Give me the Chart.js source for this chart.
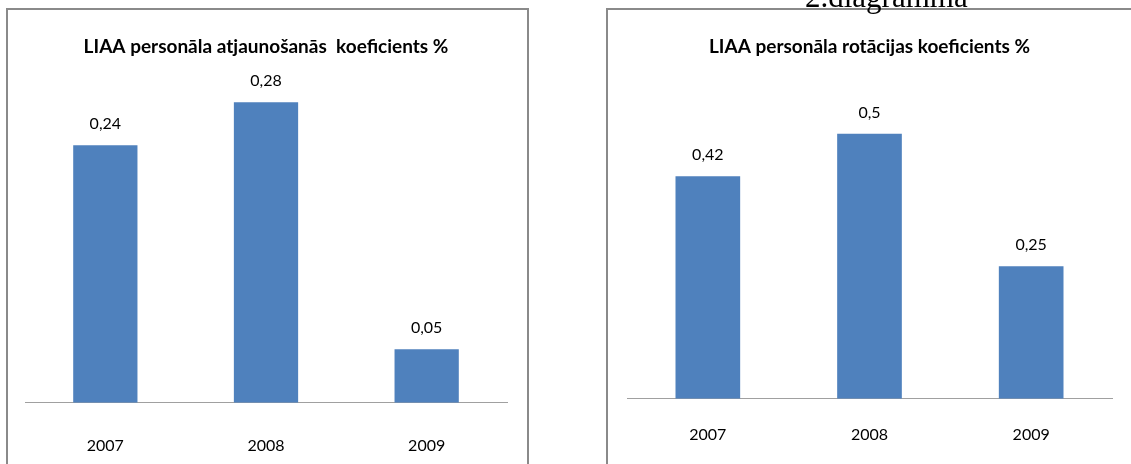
<!DOCTYPE html>
<html>
<head>
<meta charset="utf-8">
<script src="https://cdn.jsdelivr.net/npm/chart.js@4"></script>
<style>
  body { margin: 0; width: 1131px; height: 464px; overflow: hidden; background: #fff; position: relative; }
  .box { position: absolute; border: 2px solid #8a8a8a; background: #fff; }
  #box1 { left: 6px; top: 8px; width: 519px; height: 480px; }
  #box2 { left: 606px; top: 8px; width: 560px; height: 480px; }
  #caption { position: absolute; left: 805px; top: -19px; font: 31px "Liberation Serif", serif; line-height: 31px; color: #000; z-index: 2; }
</style>
</head>
<body>
<div id="caption">2.diagramma</div>
<div class="box" id="box1"><canvas id="chart1" width="519" height="478"></canvas></div>
<div class="box" id="box2"><canvas id="chart2" width="516" height="460"></canvas></div>
<script>
var years = ['2007', '2008', '2009']
var renewalValues = [0.24, 0.28, 0.05]
var rotationValues = [0.42, 0.5, 0.25]

var renewalTitle = 'LIAA personāla atjaunošanās  koeficients %'
var rotationTitle = 'LIAA personāla rotācijas koeficients %'

// value above each bar, with decimal comma
var valueLabels = {
    id: 'valueLabels',
    afterDatasetsDraw: function (chart) {
        var ctx = chart.ctx
        var values = chart.data.datasets[0].data
        ctx.save()
        ctx.font = '16px Lato'
        ctx.fillStyle = '#000'
        ctx.textAlign = 'center'
        ctx.textBaseline = 'middle'
        chart.getDatasetMeta(0).data.forEach(function (bar, i) {
            ctx.fillText(String(values[i]).replace('.', ','), bar.x, bar.y - 21)
        })
        ctx.restore()
    }
}

function makeChart(id, title, values, yMax, tickPad, pad) {
    return new Chart(document.getElementById(id).getContext('2d'), {
        type: 'bar',
        data: {
            labels: years,
            datasets: [{
                data: values,
                backgroundColor: '#4f81bd',
                borderWidth: 0,
                barPercentage: 0.4,
                categoryPercentage: 1
            }]
        },
        options: {
            responsive: false,
            animation: false,
            layout: { padding: pad },
            plugins: {
                legend: { display: false },
                tooltip: { enabled: false },
                title: {
                    display: true,
                    text: title,
                    color: '#000',
                    font: { family: 'Lato', size: 19, weight: 'bold' },
                    padding: { top: 25, bottom: 23 }
                }
            },
            scales: {
                x: {
                    grid: { display: false, drawTicks: false },
                    border: { display: true, color: '#a0a0a0', width: 1 },
                    ticks: { color: '#000', padding: tickPad, font: { family: 'Lato', size: 16 } }
                },
                y: { display: false, min: 0, max: yMax }
            }
        },
        plugins: [valueLabels]
    })
}

makeChart('chart1', renewalTitle, renewalValues, 0.3, 33, { left: 17, right: 20, top: 0, bottom: 0 })
makeChart('chart2', rotationTitle, rotationValues, 0.6, 26, { left: 19, right: 12, top: 0, bottom: 0 })
</script>
</body>
</html>
